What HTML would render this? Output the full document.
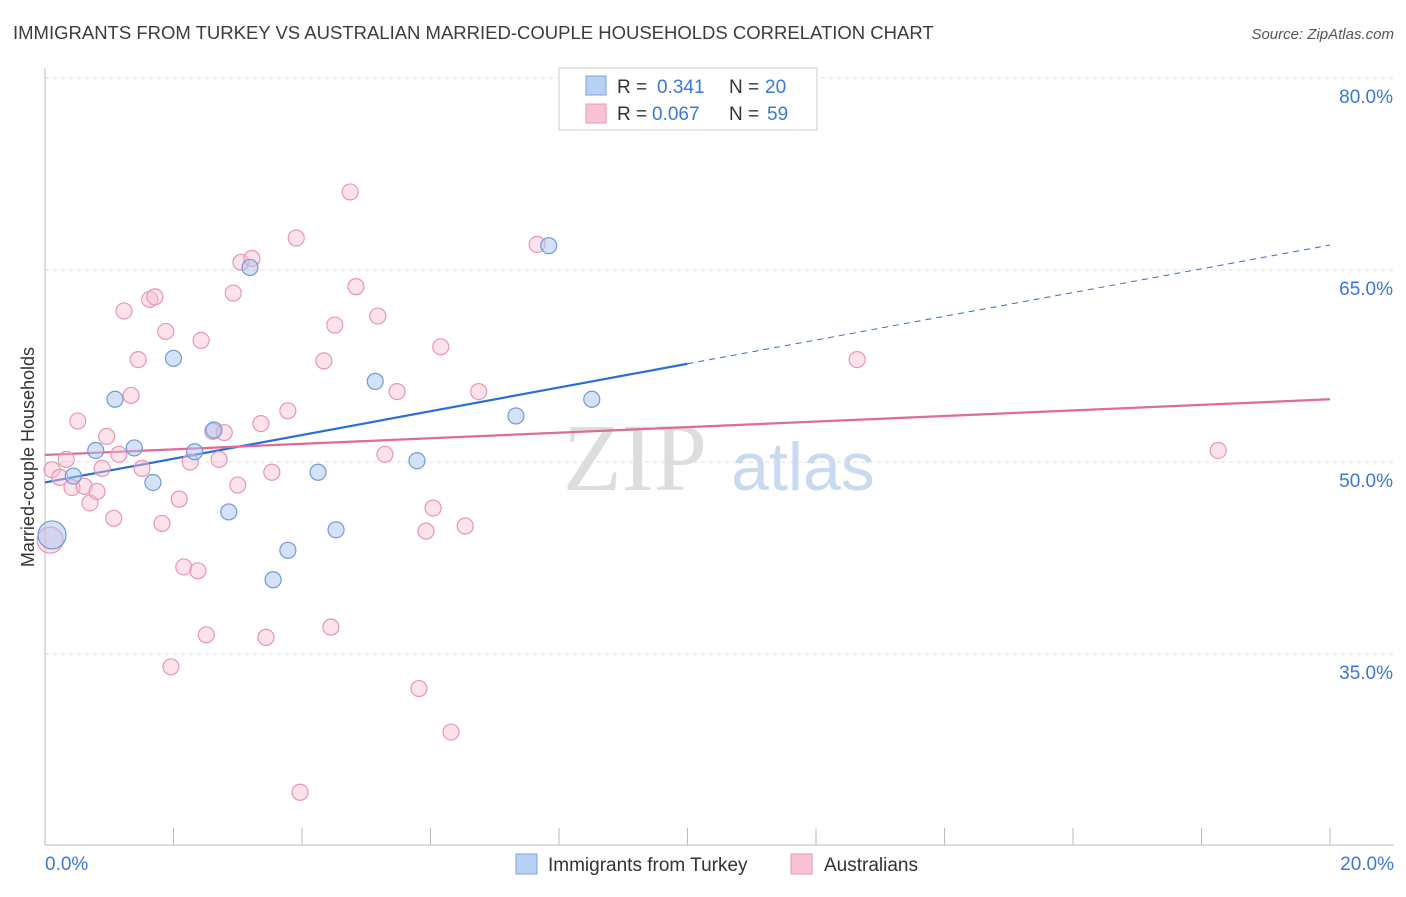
<!DOCTYPE html>
<html><head><meta charset="utf-8"><style>
body{margin:0;background:#fff;width:1406px;height:892px;overflow:hidden;font-family:"Liberation Sans",sans-serif}
</style></head><body>
<svg id="chart" width="1406" height="892" xmlns="http://www.w3.org/2000/svg" font-family="Liberation Sans, sans-serif">
<text x="13" y="39" font-size="18.5" fill="#3c3c3c">IMMIGRANTS FROM TURKEY VS AUSTRALIAN MARRIED-COUPLE HOUSEHOLDS CORRELATION CHART</text>
<text x="1394" y="39" font-size="15" fill="#555" text-anchor="end" font-style="italic">Source: ZipAtlas.com</text>
<text transform="translate(34,457) rotate(-90)" font-size="18" fill="#333" text-anchor="middle">Married-couple Households</text>
<g>
<text x="635" y="490" font-size="96" fill="#ddd" font-family="Liberation Serif, serif" text-anchor="middle">ZIP</text>
<text x="803" y="490" font-size="68" fill="#c9daf0" text-anchor="middle">atlas</text>
</g>
<g id="grid"></g><g id="axes"></g><g id="trend"></g><g id="points"></g>
<g>
<rect x="559" y="68" width="258" height="62" fill="#fff" stroke="#ccc"/>
<rect x="586" y="76" width="20" height="19" fill="#b8d0f4" stroke="#7aa3dd"/>
<rect x="586" y="104" width="20" height="19" fill="#f9c3d3" stroke="#e89ab2"/>
<text x="617" y="93" font-size="19" fill="#333">R =</text>
<text x="657" y="93" font-size="19" fill="#3a78d6">0.341</text>
<text x="729" y="93" font-size="19" fill="#333">N =</text>
<text x="765" y="93" font-size="19" fill="#3a78d6">20</text>
<text x="617" y="120" font-size="19" fill="#333">R =</text>
<text x="652" y="120" font-size="19" fill="#3a78d6">0.067</text>
<text x="729" y="120" font-size="19" fill="#333">N =</text>
<text x="767" y="120" font-size="19" fill="#3a78d6">59</text>
</g>
<g>
<rect x="516" y="854" width="21" height="20" fill="#b8d0f4" stroke="#7aa3dd"/>
<text x="548" y="871" font-size="19" fill="#333">Immigrants from Turkey</text>
<rect x="791" y="854" width="21" height="20" fill="#f9c3d3" stroke="#e89ab2"/>
<text x="824" y="871" font-size="19" fill="#333">Australians</text>
</g>
</svg>
<script>
const yTicks=[80,65,50,35];
const yTickLabels=["80.0%","65.0%","50.0%","35.0%"];
const xTickLabels=["0.0%","20.0%"];
const blueX=[0.11,0.44,0.79,1.09,1.39,1.68,2.0,2.33,2.63,2.86,3.19,3.55,3.78,4.25,4.53,5.14,5.79,7.33,7.84,8.51];
const blueY=[44.3,48.9,50.9,54.9,51.1,48.4,58.1,50.8,52.5,46.1,65.2,40.8,43.1,49.2,44.7,56.3,50.1,53.6,66.9,54.9];
const pinkX=[0.08,0.11,0.23,0.33,0.42,0.51,0.61,0.70,0.81,0.89,0.96,1.07,1.15,1.23,1.34,1.45,1.51,1.63,1.71,1.82,1.88,1.96,2.09,2.16,2.26,2.38,2.43,2.51,2.61,2.71,2.79,2.93,3.0,3.05,3.22,3.36,3.44,3.53,3.78,3.91,3.97,4.34,4.45,4.51,4.75,4.84,5.18,5.29,5.48,5.82,5.93,6.04,6.16,6.32,6.54,6.75,7.66,12.64,18.26];
const pinkY=[43.9,49.4,48.8,50.2,48.0,53.2,48.1,46.8,47.7,49.5,52.0,45.6,50.6,61.8,55.2,58.0,49.5,62.7,62.9,45.2,60.2,34.0,47.1,41.8,50.0,41.5,59.5,36.5,52.4,50.2,52.3,63.2,48.2,65.6,65.9,53.0,36.3,49.2,54.0,67.5,24.2,57.9,37.1,60.7,71.1,63.7,61.4,50.6,55.5,32.3,44.6,46.4,59.0,28.9,45.0,55.5,67.0,58.0,50.9];
const blueTrend=[48.4,66.95];
const pinkTrend=[50.55,54.9];
const NS="http://www.w3.org/2000/svg";
const X=v=>45+v*64.25, Y=v=>78+(80-v)*12.8;
function mk(tag,attrs,parent){const e=document.createElementNS(NS,tag);for(const k in attrs)e.setAttribute(k,attrs[k]);document.getElementById(parent).appendChild(e);return e;}
yTicks.forEach((t,i)=>{
 const g=mk('line',{x1:45,x2:1394,y1:Y(t),y2:Y(t),stroke:'#ddd','stroke-dasharray':'4,4'},'grid');
 
 
 const l=mk('text',{x:1393,y:Y(t)+25,'font-size':19,fill:'#3a78d6','text-anchor':'end'},'grid');
 l.textContent=yTickLabels[i];
 
 
});
const ya=mk('line',{x1:45,x2:45,y1:68,y2:845,stroke:'#bbb'},'axes');


const xa=mk('line',{x1:45,x2:1394,y1:845,y2:845,stroke:'#bbb'},'axes');


for(let v=2;v<=20;v+=2){const t=mk('line',{x1:X(v),x2:X(v),y1:828,y2:845,stroke:'#bbb'},'axes');
 
 }
[[0,'start',45],[20,'end',1394]].forEach((a,i)=>{const t=mk('text',{x:a[2],y:870,'font-size':19,fill:'#3a78d6','text-anchor':a[1]},'axes');t.textContent=xTickLabels[i];
 
 });
const bAt=v=>blueTrend[0]+(blueTrend[1]-blueTrend[0])*v/20;
const pAt=v=>pinkTrend[0]+(pinkTrend[1]-pinkTrend[0])*v/20;
let t1=mk('line',{x1:X(0),y1:Y(bAt(0)),x2:X(10),y2:Y(bAt(10)),stroke:'#2a6fd6','stroke-width':2.2},'trend');


let t2=mk('line',{x1:X(10),y1:Y(bAt(10)),x2:X(20),y2:Y(bAt(20)),stroke:'#2a6fd6','stroke-width':1,'stroke-dasharray':'6,5'},'trend');


let t3=mk('line',{x1:X(0),y1:Y(pAt(0)),x2:X(20),y2:Y(pAt(20)),stroke:'#e06b93','stroke-width':2.2},'trend');


pinkX.forEach((x,i)=>{const c=mk('circle',{cx:X(x),cy:Y(pinkY[i]),r:i==0?13:8,fill:'rgba(249,190,210,0.45)',stroke:'#e995b2','stroke-width':1.2},'points');
 
 });
blueX.forEach((x,i)=>{const c=mk('circle',{cx:X(x),cy:Y(blueY[i]),r:i==0?14:8,fill:'rgba(170,198,240,0.5)',stroke:'#6f9ad8','stroke-width':1.2},'points');
 
 });
</script>
</body></html>
